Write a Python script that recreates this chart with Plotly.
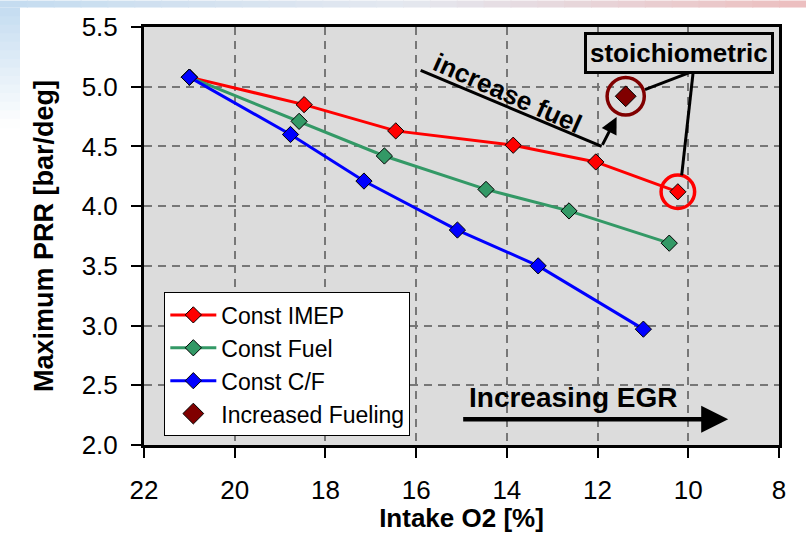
import plotly.graph_objects as go

# ---------------- data ----------------
o2_imep = [21.0, 18.47, 16.45, 13.86, 12.04, 10.23]
prr_imep = [5.08, 4.85, 4.63, 4.51, 4.37, 4.12]

o2_fuel = [21.0, 18.58, 16.70, 14.46, 12.63, 10.42]
prr_fuel = [5.08, 4.71, 4.42, 4.14, 3.96, 3.69]

o2_cf = [21.0, 18.77, 17.15, 15.09, 13.31, 10.99]
prr_cf = [5.08, 4.60, 4.21, 3.80, 3.50, 2.97]

o2_inc = [11.38]
prr_inc = [4.92]

x_ticks = [22, 20, 18, 16, 14, 12, 10, 8]
y_ticks = [2.0, 2.5, 3.0, 3.5, 4.0, 4.5, 5.0, 5.5]

FONT = "Liberation Sans, Arial, Helvetica, sans-serif"

fig = go.Figure()

def series(x, y, name, color):
    fig.add_trace(go.Scatter(
        x=x, y=y, name=name, mode="lines+markers",
        line=dict(color=color, width=3),
        marker=dict(symbol="diamond", size=12.5, color=color,
                    line=dict(color="black", width=1)),
    ))

series(o2_imep, prr_imep, "Const IMEP", "#FF0000")
series(o2_fuel, prr_fuel, "Const Fuel", "#339966")
series(o2_cf, prr_cf, "Const C/F", "#0000FF")

fig.add_trace(go.Scatter(
    x=o2_inc, y=prr_inc, name="Increased Fueling", mode="markers",
    marker=dict(symbol="diamond", size=16, color="#800000",
                line=dict(color="black", width=1)),
))

shapes = []
# slide background strips (top gradient band and left band)
def lerp(c1, c2, t):
    return "rgb(%d,%d,%d)" % tuple(round(a + (b - a) * t) for a, b in zip(c1, c2))

PL, PW, PB, PH = 144, 635, 445, 418.5
def px2px(px):
    return (px - PL) / PW
def py2py(py):
    return (PB - py) / PH

left_c = (196, 220, 240)
mid_c = (228, 232, 240)
right_c = (236, 190, 190)
n = 30
for i in range(n):
    t = (i + 0.5) / n
    c = lerp(left_c, mid_c, t * 2) if t < 0.5 else lerp(mid_c, right_c, (t - 0.5) * 2)
    shapes.append(dict(type="rect", xref="paper", yref="paper",
                       x0=px2px(806 * i / n), x1=px2px(806 * (i + 1) / n + 1),
                       y0=py2py(7), y1=py2py(0), fillcolor=c,
                       line=dict(width=0), layer="below"))
m = 14
for j in range(m):
    t = (j + 0.5) / m
    c = lerp(left_c, (255, 255, 255), t)
    shapes.append(dict(type="rect", xref="paper", yref="paper",
                       x0=px2px(0), x1=px2px(20),
                       y0=py2py(7 + 120 * (j + 1) / m + 1), y1=py2py(7 + 120 * j / m),
                       fillcolor=c, line=dict(width=0), layer="below"))

# circles around the stoichiometric points
shapes.append(dict(type="circle", xref="x", yref="y",
                   x0=o2_inc[0] - 0.41, x1=o2_inc[0] + 0.41,
                   y0=prr_inc[0] - 0.157, y1=prr_inc[0] + 0.157,
                   line=dict(color="#800000", width=3.5)))
shapes.append(dict(type="circle", xref="x", yref="y",
                   x0=o2_imep[-1] - 0.37, x1=o2_imep[-1] + 0.37,
                   y0=prr_imep[-1] - 0.14, y1=prr_imep[-1] + 0.14,
                   line=dict(color="#FF0000", width=3.5)))
# leader lines from the label box
shapes.append(dict(type="line", xref="x", yref="y", x0=9.89, y0=5.13, x1=10.955, y1=4.975,
                   line=dict(color="black", width=3)))
shapes.append(dict(type="line", xref="x", yref="y", x0=9.89, y0=5.13, x1=10.146, y1=4.258,
                   line=dict(color="black", width=3)))
# underline of "increase fuel"
shapes.append(dict(type="line", xref="x", yref="y", x0=15.90, y0=5.136, x1=11.91, y1=4.50,
                   line=dict(color="black", width=3)))

annotations = [
    dict(x=10.2, y=5.284, xref="x", yref="y", text="<b>stoichiometric</b>",
         showarrow=False, font=dict(family=FONT, size=26, color="black"),
         bgcolor="#DCDCDC", bordercolor="black", borderwidth=3, borderpad=3),
    dict(x=13.99, y=4.945, xref="x", yref="y", text="<b>increase fuel</b>",
         showarrow=False, textangle=24, font=dict(family=FONT, size=26, color="black")),
    dict(x=11.58, y=4.746, xref="x", yref="y", ax=11.91, ay=4.50, axref="x", ayref="y",
         text="", showarrow=True, arrowhead=2, arrowsize=1.1, arrowwidth=3, arrowcolor="black"),
    dict(x=12.535, y=2.40, xref="x", yref="y", text="<b>Increasing EGR</b>",
         showarrow=False, font=dict(family=FONT, size=28, color="black")),
    dict(x=9.12, y=2.215, xref="x", yref="y", ax=14.996, ay=2.215, axref="x", ayref="y",
         text="", showarrow=True, arrowhead=2, arrowsize=1.2, arrowwidth=4.5, arrowcolor="black"),
]

axis_common = dict(
    showline=True, linecolor="black", linewidth=3, mirror=True,
    ticks="outside", ticklen=10, tickwidth=2, tickcolor="black",
    showgrid=True, gridcolor="#777777", gridwidth=1.5, griddash="8px,6px",
    zeroline=False, tickfont=dict(family=FONT, size=26, color="black"),
    automargin=False,
)

fig.update_layout(
    width=806, height=533,
    margin=dict(l=144, r=27, t=27, b=88),
    paper_bgcolor="white", plot_bgcolor="#DCDCDC",
    font=dict(family=FONT, color="black"),
    xaxis=dict(range=[22, 8], tickvals=x_ticks, ticklabelstandoff=10,
               title=dict(text="<b>Intake O2 [%]</b>", font=dict(family=FONT, size=26), standoff=5),
               **axis_common),
    yaxis=dict(range=[2.0, 5.5], tickvals=y_ticks, tickformat=".1f", ticklabelstandoff=8,
               title=dict(text="<b>Maximum PRR [bar/deg]</b>", font=dict(family=FONT, size=27), standoff=21),
               **axis_common),
    legend=dict(x=0.032, y=0.365, xanchor="left", yanchor="top",
                bgcolor="white", bordercolor="black", borderwidth=1,
                font=dict(family=FONT, size=23, color="black"),
                tracegroupgap=0, itemwidth=46),
    shapes=shapes, annotations=annotations, showlegend=True,
)

fig.write_html("out.html", config={"displayModeBar": False},
               post_script="document.body.style.margin='0px';document.body.style.overflow='hidden';")
